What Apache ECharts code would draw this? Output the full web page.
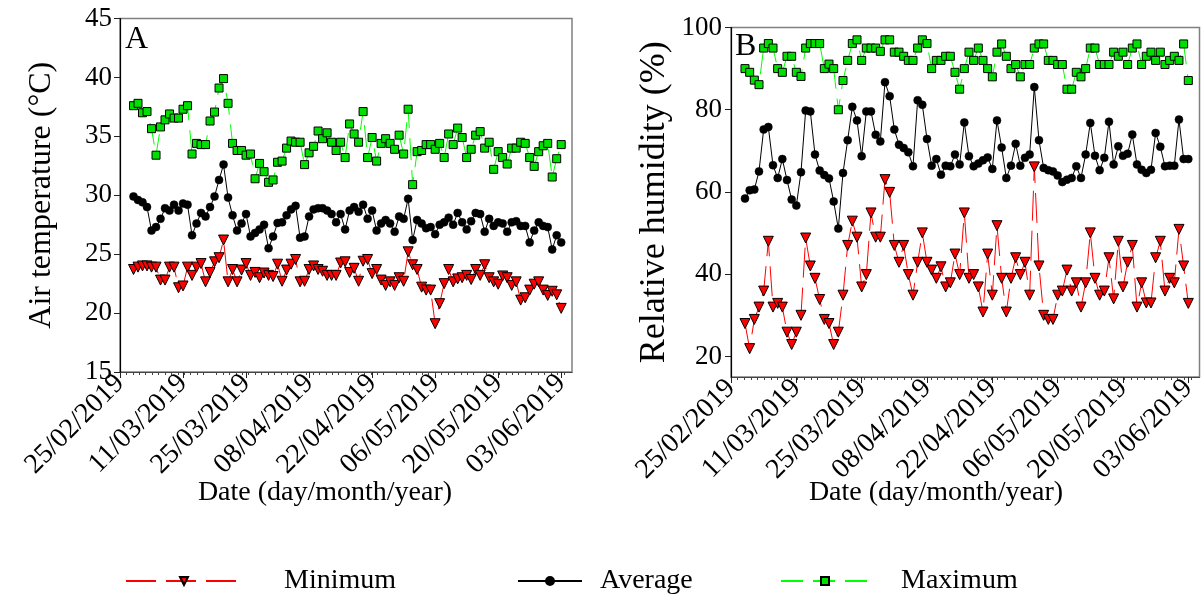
<!DOCTYPE html>
<html>
<head>
<meta charset="utf-8">
<title>Air temperature and relative humidity</title>
<script src="https://cdn.jsdelivr.net/npm/echarts@6/dist/echarts.min.js"></script>
<style>
  html, body { margin: 0; padding: 0; background: #fff; }
  #chart { width: 1202px; height: 601px; }
</style>
</head>
<body>
<div id="chart"></div>
<script>
// Daily observations, 28/02/2019 to 03/06/2019
const dates = [
  '28/02/2019',
  '01/03/2019','02/03/2019','03/03/2019','04/03/2019','05/03/2019','06/03/2019','07/03/2019','08/03/2019','09/03/2019','10/03/2019',
  '11/03/2019','12/03/2019','13/03/2019','14/03/2019','15/03/2019','16/03/2019','17/03/2019','18/03/2019','19/03/2019','20/03/2019',
  '21/03/2019','22/03/2019','23/03/2019','24/03/2019','25/03/2019','26/03/2019','27/03/2019','28/03/2019','29/03/2019','30/03/2019','31/03/2019',
  '01/04/2019','02/04/2019','03/04/2019','04/04/2019','05/04/2019','06/04/2019','07/04/2019','08/04/2019','09/04/2019','10/04/2019',
  '11/04/2019','12/04/2019','13/04/2019','14/04/2019','15/04/2019','16/04/2019','17/04/2019','18/04/2019','19/04/2019','20/04/2019',
  '21/04/2019','22/04/2019','23/04/2019','24/04/2019','25/04/2019','26/04/2019','27/04/2019','28/04/2019','29/04/2019','30/04/2019',
  '01/05/2019','02/05/2019','03/05/2019','04/05/2019','05/05/2019','06/05/2019','07/05/2019','08/05/2019','09/05/2019','10/05/2019',
  '11/05/2019','12/05/2019','13/05/2019','14/05/2019','15/05/2019','16/05/2019','17/05/2019','18/05/2019','19/05/2019','20/05/2019',
  '21/05/2019','22/05/2019','23/05/2019','24/05/2019','25/05/2019','26/05/2019','27/05/2019','28/05/2019','29/05/2019','30/05/2019','31/05/2019',
  '01/06/2019','02/06/2019','03/06/2019'
];

// Air temperature (°C)
const tempMin = [
  23.7, 23.9, 24.0, 24.0, 23.9, 23.9, 22.8, 22.8, 23.9, 23.9,
  22.15, 22.3, 23.9, 23.2, 23.9, 24.2, 22.65, 23.45, 24.35, 24.7,
  26.2, 22.65, 23.7, 22.65, 23.65, 24.2, 23.2, 23.45, 23.0, 23.4,
  23.2, 23.1, 24.15, 22.7, 23.65, 24.15, 24.55, 22.65, 22.7, 23.7,
  24.0, 23.7, 23.55, 23.2, 23.2, 23.2, 24.25, 24.35, 23.45, 23.8,
  22.7, 24.4, 24.55, 23.35, 23.7, 22.8, 22.35, 22.65, 22.35, 23.0,
  22.7, 25.2, 24.1, 23.7, 22.2, 21.95, 21.95, 19.1, 20.8, 22.5,
  23.7, 22.65, 22.9, 23.0, 23.2, 22.85, 23.7, 23.2, 24.1, 23.0,
  22.65, 22.45, 23.15, 23.0, 22.35, 22.65, 21.1, 21.3, 21.95, 22.45,
  22.65, 21.95, 21.5, 21.85, 21.55, 20.4
];
const tempAvg = [
  29.9, 29.6, 29.4, 29.0, 27.0, 27.3, 28.0, 28.9, 28.7, 29.2,
  28.7, 29.3, 29.2, 26.6, 27.6, 28.5, 28.2, 29.0, 29.9, 31.3,
  32.6, 29.8, 28.3, 27.0, 27.6, 28.4, 26.5, 26.8, 27.1, 27.5,
  25.5, 26.5, 27.65, 27.7, 28.3, 28.8, 29.1, 26.4, 26.5, 28.2,
  28.8, 28.9, 28.9, 28.7, 28.4, 27.7, 28.4, 27.1, 28.7, 29.0,
  28.6, 29.2, 28.0, 28.7, 27.0, 27.6, 27.9, 27.6, 26.9, 28.2,
  28.0, 29.7, 26.2, 27.9, 27.6, 27.2, 27.3, 26.7, 27.5, 27.7,
  28.1, 27.5, 28.5, 27.7, 27.1, 27.8, 28.5, 28.4, 26.9, 28.0,
  27.4, 27.7, 27.6, 26.9, 27.7, 27.8, 27.4, 27.4, 26.0, 27.0,
  27.7, 27.4, 27.3, 25.4, 26.6, 26.0
];
const tempMax = [
  37.6, 37.8, 37.0, 37.1, 35.65, 33.4, 35.8, 36.4, 36.9, 36.55,
  36.55, 37.3, 37.6, 33.5, 34.4, 34.3, 34.3, 36.3, 37.06, 39.1,
  39.9, 37.8, 34.4, 33.8, 33.8, 33.4, 33.5, 31.4, 32.7, 32.0,
  31.1, 31.3, 32.8, 32.9, 34.0, 34.6, 34.5, 34.5, 32.6, 33.6,
  34.15, 35.45, 34.8, 35.3, 34.5, 33.8, 34.5, 33.2, 36.05, 35.2,
  34.5, 37.1, 33.2, 34.9, 32.9, 34.4, 34.8, 34.4, 33.9, 35.1,
  33.5, 37.3, 30.9, 33.7, 33.8, 34.3, 34.3, 33.9, 34.4, 33.2,
  35.2, 34.3, 35.7, 34.9, 33.2, 33.9, 35.1, 35.4, 34.0, 34.5,
  32.2, 33.7, 33.2, 32.65, 34.0, 34.0, 34.5, 34.4, 33.2, 32.45,
  33.7, 34.2, 34.4, 31.55, 33.1, 34.3
];

// Relative humidity (%)
const rhMin = [
  28.0, 21.9, 29.0, 32.0, 35.9, 48.0, 32.0, 32.9, 32.0, 25.9,
  22.9, 25.9, 30.0, 48.8, 42.0, 39.0, 33.85, 29.0, 28.0, 22.9,
  25.9, 34.9, 47.0, 52.9, 49.0, 36.9, 39.9, 54.9, 49.0, 49.0,
  63.0, 59.9, 47.0, 42.9, 47.0, 39.9, 34.9, 42.9, 50.05, 42.9,
  41.0, 39.0, 41.8, 36.9, 37.9, 44.9, 39.9, 54.9, 39.0, 39.9,
  36.9, 30.8, 44.9, 34.9, 51.8, 39.0, 30.8, 39.0, 44.0, 39.9,
  42.9, 34.9, 66.1, 42.0, 30.0, 29.0, 29.0, 34.9, 35.9, 41.0,
  35.9, 37.9, 32.0, 37.9, 50.05, 39.0, 34.9, 35.9, 44.0, 34.0,
  48.0, 36.9, 42.9, 47.0, 32.0, 37.9, 33.0, 33.0, 44.0, 48.0,
  35.9, 39.0, 37.9, 50.9, 42.0, 32.9
];
const rhAvg = [
  58.4, 60.4, 60.6, 65.0, 75.2, 75.8, 66.5, 63.4, 68.0, 62.9,
  58.15, 56.7, 64.8, 79.8, 79.6, 69.1, 65.2, 64.1, 63.3, 57.7,
  51.1, 64.6, 72.6, 80.7, 77.4, 68.7, 79.6, 79.6, 73.9, 72.3,
  86.7, 83.3, 75.2, 71.5, 70.7, 69.65, 66.25, 82.3, 81.2, 72.9,
  66.4, 68.0, 64.2, 66.4, 66.25, 69.1, 66.7, 76.9, 68.7, 66.25,
  66.9, 67.7, 68.4, 65.6, 77.4, 70.8, 63.4, 66.4, 71.7, 66.4,
  68.3, 69.1, 85.5, 72.6, 65.85, 65.3, 65.0, 64.0, 62.4, 63.0,
  63.4, 66.25, 63.4, 69.1, 76.8, 68.8, 65.3, 68.3, 77.1, 66.7,
  71.1, 68.8, 69.3, 73.95, 66.7, 65.4, 64.6, 65.4, 74.35, 71.0,
  66.25, 66.4, 66.4, 77.6, 68.0, 68.0
];
const rhMax = [
  90.0, 89.1, 87.2, 86.1, 95.0, 96.1, 95.0, 90.0, 89.1, 93.0,
  93.0, 89.1, 88.1, 95.0, 96.1, 96.1, 96.1, 90.0, 91.1, 90.0,
  80.0, 87.1, 92.0, 96.1, 97.0, 92.0, 95.0, 95.0, 95.0, 94.2,
  97.0, 97.0, 94.0, 94.0, 93.0, 92.0, 92.0, 95.0, 97.0, 96.1,
  90.0, 92.0, 92.0, 93.0, 93.0, 89.1, 85.0, 90.0, 94.0, 92.0,
  95.0, 92.0, 90.0, 88.0, 94.0, 96.0, 93.0, 90.0, 91.0, 88.0,
  91.0, 91.0, 95.0, 96.0, 96.0, 92.0, 92.0, 91.0, 91.0, 85.0,
  85.0, 89.1, 88.0, 90.0, 95.0, 95.0, 91.0, 91.0, 91.0, 94.0,
  93.0, 94.0, 91.0, 95.0, 96.0, 91.0, 93.0, 94.0, 92.0, 94.0,
  91.0, 92.0, 93.0, 92.0, 96.0, 87.1
];

// Date axis ticks (every 14 days)
const xTickLabels = ['25/02/2019', '11/03/2019', '25/03/2019', '08/04/2019',
                     '22/04/2019', '06/05/2019', '20/05/2019', '03/06/2019'];
const tempTicks = [15, 20, 25, 30, 35, 40, 45];
const rhTicks = [20, 40, 60, 80, 100];

const SERIF = 'Liberation Serif, Times New Roman, serif';
const DAY_MS = 86400000;
const ORIGIN = Date.UTC(2019, 1, 25);

// days elapsed since 25/02/2019 for a dd/mm/yyyy string
function dayOf(s) {
  const p = s.split('/').map(Number);
  return (Date.UTC(p[2], p[1] - 1, p[0]) - ORIGIN) / DAY_MS;
}
const tickDays = xTickLabels.map(dayOf);
const labelByDay = {};
xTickLabels.forEach(function (t, i) { labelByDay[tickDays[i]] = t; });

function pairs(vals) {
  return dates.map(function (d, i) { return [dayOf(d), vals[i]]; });
}

const styleMin = {
  symbol: 'triangle', symbolRotate: 180, symbolSize: 10,
  itemStyle: { color: '#ff0000', borderColor: '#000', borderWidth: 1 },
  lineStyle: { color: '#ff0000', width: 1, type: [30, 10] }
};
const styleAvg = {
  symbol: 'circle', symbolSize: 8,
  itemStyle: { color: '#000', borderColor: '#000', borderWidth: 0.5 },
  lineStyle: { color: '#000', width: 1, type: 'solid' }
};
const styleMax = {
  symbol: 'rect', symbolSize: 8,
  itemStyle: { color: '#00e000', borderColor: '#000', borderWidth: 1 },
  lineStyle: { color: '#00ff00', width: 1, type: [22, 10] }
};

function series(name, vals, idx, st) {
  return Object.assign({
    type: 'line', name: name, xAxisIndex: idx, yAxisIndex: idx,
    data: pairs(vals), showAllSymbol: true, animation: false,
    emphasis: { disabled: true }
  }, st);
}

function xAxis(idx) {
  return {
    type: 'value', gridIndex: idx, min: 0, max: 100.4,
    axisLine: { show: true, lineStyle: { color: '#444', width: 1 } },
    axisTick: { show: true, length: 6, inside: false, customValues: tickDays,
                lineStyle: { color: '#222' } },
    minorTick: { show: true, splitNumber: 14, length: 3, lineStyle: { color: '#444' } },
    splitLine: { show: false },
    axisLabel: {
      customValues: tickDays, rotate: 45, margin: 7,
      fontFamily: SERIF, fontSize: 28, color: '#000',
      formatter: function (v) { return labelByDay[v] || ''; }
    }
  };
}

function yAxis(idx, o) {
  return {
    type: 'value', gridIndex: idx, min: o.min, max: o.max,
    name: o.name, nameLocation: 'middle', nameRotate: 90, nameGap: o.gap,
    nameTextStyle: { fontFamily: SERIF, fontSize: o.nameSize, color: '#000' },
    axisLine: { show: true, lineStyle: { color: '#000', width: 1.2 } },
    axisTick: { show: true, length: 6, inside: false, customValues: o.ticks,
                lineStyle: { color: '#222' } },
    splitLine: { show: false },
    axisLabel: { customValues: o.ticks, margin: o.margin,
                 fontFamily: SERIF, fontSize: 27, color: '#000' }
  };
}

function legend(name, left, w, gap) {
  return {
    data: [name], left: left, top: 567, padding: 0,
    itemWidth: w, itemHeight: 10, selectedMode: false,
    textStyle: { fontFamily: SERIF, fontSize: 28, color: '#000', padding: [0, 0, 0, gap] }
  };
}

function text(str, x, y, size, align) {
  return {
    type: 'text', x: x, y: y,
    style: { text: str, fontFamily: SERIF, fontSize: size, fill: '#000',
             textAlign: align || 'left', textVerticalAlign: 'middle' }
  };
}

const chart = echarts.init(document.getElementById('chart'), null, { renderer: 'canvas' });
chart.setOption({
  backgroundColor: '#fff',
  animation: false,
  grid: [
    { left: 120, top: 18.5, width: 452, height: 353.5, show: true,
      borderColor: '#808080', borderWidth: 1.5, backgroundColor: 'transparent' },
    { left: 731, top: 27.5, width: 468.5, height: 349.5, show: true,
      borderColor: '#808080', borderWidth: 1.5, backgroundColor: 'transparent' }
  ],
  xAxis: [xAxis(0), xAxis(1)],
  yAxis: [
    yAxis(0, { min: 15, max: 45, ticks: tempTicks, name: 'Air temperature (°C)',
               nameSize: 32, gap: 62, margin: 8 }),
    yAxis(1, { min: 15, max: 100, ticks: rhTicks, name: 'Relative humidity (%)',
               nameSize: 36, gap: 58, margin: 9 })
  ],
  legend: [
    legend('Minimum', 125, 116, 37),
    legend('Average', 517, 64, 13),
    legend('Maximum', 780, 88, 27)
  ],
  graphic: [
    text('A', 125, 40, 32),
    text('B', 735, 47, 32),
    text('Date (day/month/year)', 325, 493, 28, 'center'),
    text('Date (day/month/year)', 936, 493, 28, 'center')
  ],
  series: [
    series('Minimum', tempMin, 0, styleMin),
    series('Average', tempAvg, 0, styleAvg),
    series('Maximum', tempMax, 0, styleMax),
    series('Minimum', rhMin, 1, styleMin),
    series('Average', rhAvg, 1, styleAvg),
    series('Maximum', rhMax, 1, styleMax)
  ]
});
</script>
</body>
</html>
